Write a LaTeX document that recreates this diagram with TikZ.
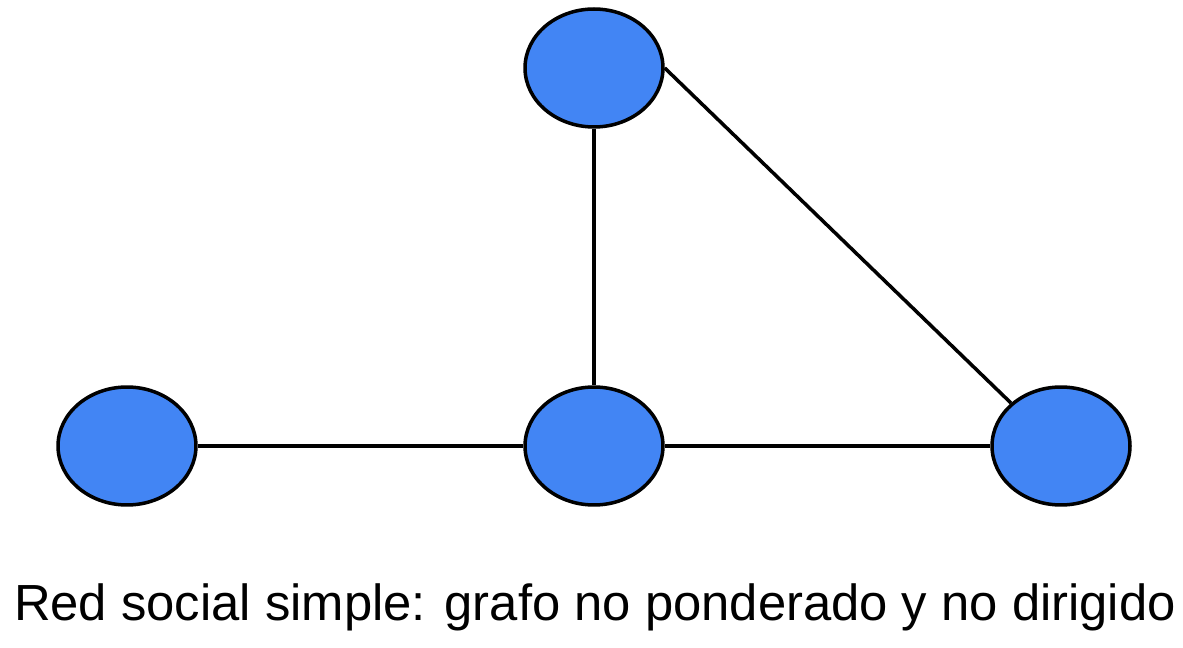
\documentclass[tikz,border=0pt]{standalone}
\usepackage{fontspec}
\setmainfont{Liberation Sans}
\usepackage{tikz}
\usetikzlibrary{shapes.geometric}

\definecolor{nodeblue}{HTML}{4285F4}

\begin{document}
\begin{tikzpicture}[
  x=0.02cm,y=-0.02cm,
  person/.style={ellipse,draw=black,fill=nodeblue,line width=2pt,
    minimum width=2.76cm,minimum height=2.36cm,inner sep=0pt},
  link/.style={draw=black,line width=2pt},
  caption/.style={font=\fontsize{28.9pt}{34pt}\selectfont,inner sep=0pt,anchor=base}
]

\useasboundingbox (0,0) rectangle (1183,648);

\node[person] (top) at (594,68) {};
\node[person] (left) at (127,446) {};
\node[person] (mid) at (594,446) {};
\node[person] (right) at (1061,446) {};

\draw[link] (top.south) -- (mid.north);
\draw[link] (left.east) -- (mid.west);
\draw[link] (mid.east) -- (right.west);
\draw[link] (top.east) -- (right.north west);

\node[caption] (title) at (595,620) {Red social simple: grafo no ponderado y no dirigido};

\end{tikzpicture}
\end{document}
